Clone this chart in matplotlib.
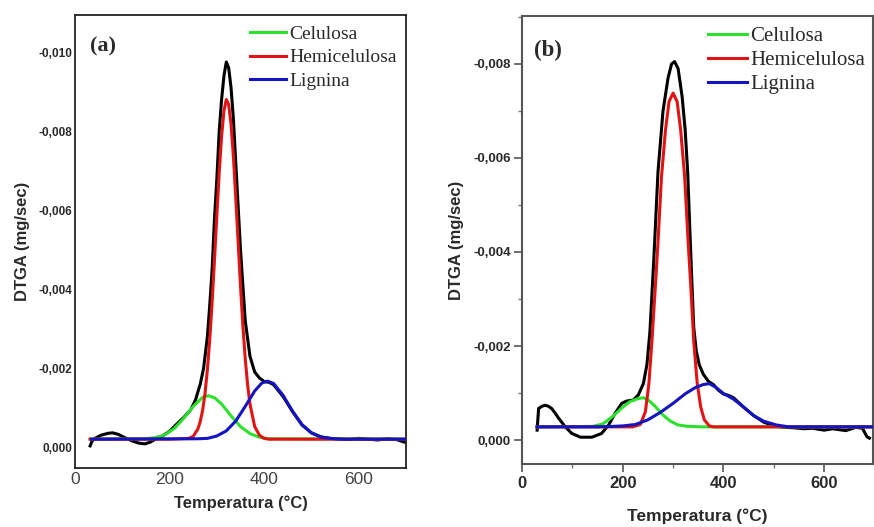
import numpy as np
import matplotlib
matplotlib.use("Agg")
import matplotlib.pyplot as plt
from matplotlib.ticker import FuncFormatter, MultipleLocator

# ---- data (DTGA magnitudes in mg/sec, plotted as negative) ----
# panel (a)
temp_a_total = [32, 36, 42, 55, 70, 80, 92, 105, 120, 135, 148, 160, 170, 185, 200, 215,
                230, 245, 255, 265, 272, 280, 285, 290, 295, 300, 305, 310, 315, 320, 325,
                330, 335, 340, 345, 350, 355, 360, 370, 380, 390, 400, 410, 420, 440, 460,
                480, 500, 520, 540, 560, 580, 600, 620, 640, 660, 680, 695, 700]
dtga_a_total = [0.00003, 0.00015, 0.00022, 0.0003, 0.00035, 0.00036, 0.00032, 0.00024,
                0.00016, 0.0001, 0.00008, 0.00013, 0.0002, 0.00028, 0.0004, 0.00058,
                0.00075, 0.00095, 0.0012, 0.0016, 0.0020, 0.0028, 0.0036, 0.0045, 0.0058,
                0.0068, 0.0080, 0.0088, 0.0094, 0.00975, 0.0096, 0.0091, 0.0083, 0.0072,
                0.0061, 0.0050, 0.0041, 0.0032, 0.0023, 0.0019, 0.00175, 0.00166, 0.00164,
                0.00158, 0.00128, 0.0009, 0.00056, 0.00036, 0.00026, 0.00022, 0.00021,
                0.00019, 0.00022, 0.0002, 0.00018, 0.00021, 0.00019, 0.00013, 0.00012]

temp_a_cel = [32, 150, 170, 190, 210, 230, 250, 270, 282, 295, 310, 330, 350, 370, 390, 410, 700]
dtga_a_cel = [0.0002, 0.00021, 0.00024, 0.00031, 0.00047, 0.00073, 0.00103, 0.00126, 0.0013,
              0.00125, 0.00109, 0.00079, 0.00052, 0.00034, 0.00025, 0.00021, 0.0002]

temp_a_hem = [32, 200, 240, 250, 260, 265, 270, 275, 280, 285, 290, 295, 300, 305, 310, 315,
              320, 325, 330, 335, 340, 345, 350, 355, 360, 365, 370, 380, 390, 400, 410, 700]
dtga_a_hem = [0.0002, 0.0002, 0.00022, 0.00027, 0.00046, 0.00065, 0.00094, 0.00136, 0.00196,
              0.00273, 0.00367, 0.00474, 0.00587, 0.00695, 0.00787, 0.00851, 0.0088, 0.00867,
              0.00817, 0.00735, 0.00631, 0.00519, 0.00408, 0.00308, 0.00224, 0.00158, 0.00109,
              0.00052, 0.0003, 0.00022, 0.0002, 0.0002]

temp_a_lig = [35, 260, 280, 300, 320, 340, 360, 380, 395, 407, 420, 440, 460, 480, 500, 520,
              540, 560, 700]
dtga_a_lig = [0.0002, 0.00021, 0.00022, 0.00028, 0.00041, 0.00066, 0.00103, 0.00142, 0.00162,
              0.00167, 0.00161, 0.00131, 0.00091, 0.00057, 0.00036, 0.00025, 0.00022, 0.0002,
              0.0002]

# panel (b)
temp_b_total = [30, 33, 40, 46, 52, 59, 66, 73, 86, 99, 116, 139, 158, 172, 185, 198, 208, 221,
                231, 241, 248, 254, 262, 270, 280, 290, 297, 303, 310, 318, 324, 329, 335, 341,
                346, 352, 360, 370, 380, 390, 400, 410, 420, 430, 440, 460, 480, 500, 520, 540,
                560, 577, 600, 617, 643, 663, 676, 685, 690]
dtga_b_total = [0.00021, 0.00067, 0.00072, 0.00074, 0.00072, 0.00067, 0.00057, 0.00046,
                0.00028, 0.00014, 0.00006, 0.00006, 0.00014, 0.00032, 0.00057, 0.00078,
                0.00083, 0.00085, 0.00096, 0.0012, 0.0016, 0.0023, 0.0039, 0.0057, 0.0070,
                0.0077, 0.0080, 0.00805, 0.0079, 0.0073, 0.0066, 0.0057, 0.0040, 0.0024,
                0.0019, 0.0016, 0.0014, 0.00125, 0.00118, 0.00106, 0.00098, 0.00095, 0.0009,
                0.0008, 0.0007, 0.00052, 0.00038, 0.0003, 0.00027, 0.00026, 0.00024, 0.00025,
                0.00021, 0.00024, 0.0002, 0.00027, 0.00025, 0.00007, 0.00004]

temp_b_cel = [30, 140, 160, 180, 200, 215, 230, 240, 250, 265, 280, 295, 310, 330, 360, 700]
dtga_b_cel = [0.00028, 0.00029, 0.00034, 0.0005, 0.0007, 0.00082, 0.00088, 0.0009, 0.00086,
              0.00071, 0.00053, 0.0004, 0.00032, 0.00029, 0.00028, 0.00028]

temp_b_hem = [30, 220, 235, 245, 252, 258, 265, 270, 277, 285, 292, 300, 308, 315, 323, 330,
              335, 341, 348, 355, 362, 372, 380, 700]
dtga_b_hem = [0.00028, 0.00028, 0.00033, 0.0006, 0.0012, 0.0021, 0.0033, 0.0042, 0.0056,
              0.0066, 0.0072, 0.00738, 0.0072, 0.0066, 0.0056, 0.0042, 0.0033, 0.0021, 0.0012,
              0.0007, 0.00043, 0.0003, 0.00028, 0.00028]

temp_b_lig = [30, 150, 180, 200, 225, 250, 275, 300, 325, 345, 360, 372, 385, 400, 420, 440,
              460, 480, 505, 530, 700]
dtga_b_lig = [0.00028, 0.00028, 0.00029, 0.0003, 0.00033, 0.00043, 0.00059, 0.00078, 0.00099,
              0.00112, 0.00118, 0.0012, 0.00112, 0.00099, 0.00087, 0.0007, 0.00052, 0.0004,
              0.00032, 0.00028, 0.00028]

labels = ["Celulosa", "Hemicelulosa", "Lignina"]
colors = ["#2ee02e", "#e01414", "#1414c0"]
x_ticks = [0, 200, 400, 600]

txt = "#2a2a2a"
sans = "Liberation Sans"
serif = "Liberation Serif"


def comma_fmt(v, pos):
    return f"{v + 0.0:.3f}".replace(".", ",")


fig = plt.figure(figsize=(8.74, 5.27), dpi=100)
ax_a = fig.add_axes([75 / 874, 59 / 527, 331 / 874, 453 / 527])
ax_b = fig.add_axes([522 / 874, 63 / 527, 351 / 874, 448 / 527])


def draw(ax, tot, cel, hem, lig):
    ax.plot(tot[0], -np.array(tot[1]), color="black", lw=2.2, zorder=1)
    lines = []
    for (t, v), c, lab, z in zip([cel, hem, lig], colors, labels, [2, 3, 4]):
        ln, = ax.plot(t, -np.array(v), color=c, lw=2.2, zorder=z, label=lab)
        lines.append(ln)
    return lines


lines_a = draw(ax_a, (temp_a_total, dtga_a_total), (temp_a_cel, dtga_a_cel),
               (temp_a_hem, dtga_a_hem), (temp_a_lig, dtga_a_lig))
lines_b = draw(ax_b, (temp_b_total, dtga_b_total), (temp_b_cel, dtga_b_cel),
               (temp_b_hem, dtga_b_hem), (temp_b_lig, dtga_b_lig))

# panel (a) axes
ax_a.set_xlim(0, 700)
ax_a.set_ylim(0.00053, -0.01094)
ax_a.set_xticks(x_ticks)
ax_a.set_yticks([-0.010, -0.008, -0.006, -0.004, -0.002, 0.0])
ax_a.yaxis.set_major_formatter(FuncFormatter(comma_fmt))
ax_a.tick_params(axis="y", length=0, pad=2, labelsize=8.5, labelcolor=txt)
ax_a.tick_params(axis="x", length=0, pad=3, labelsize=12.5, labelcolor="#444444")
for lab in ax_a.get_yticklabels():
    lab.set_fontweight("bold")
    lab.set_family(sans)
for lab in ax_a.get_xticklabels():
    lab.set_family(sans)
for sp in ax_a.spines.values():
    sp.set_linewidth(1.3)
    sp.set_color("#222222")
ax_a.set_xlabel("Temperatura (°C)", fontsize=12, fontweight="bold", family=sans,
                color=txt, labelpad=6)
ax_a.set_ylabel("DTGA (mg/sec)", fontsize=12, fontweight="bold", family=sans,
                color=txt, labelpad=6)
ax_a.text(0.045, 0.92, "(a)", transform=ax_a.transAxes, fontsize=16, fontweight="bold",
          family=serif, color=txt)
ax_a.legend(handles=lines_a, loc="upper right", bbox_to_anchor=(0.99, 0.99), frameon=False,
            prop={"family": serif, "size": 14}, handlelength=1.85, handletextpad=0.15,
            labelspacing=0.3, borderaxespad=0.1, borderpad=0.2, labelcolor=txt)

# panel (b) axes
ax_b.set_xlim(0, 697)
ax_b.set_ylim(0.00051, -0.00902)
ax_b.set_xticks(x_ticks)
ax_b.xaxis.set_minor_locator(MultipleLocator(100))
ax_b.set_yticks([-0.008, -0.006, -0.004, -0.002, 0.0])
ax_b.yaxis.set_minor_locator(MultipleLocator(0.001))
ax_b.yaxis.set_major_formatter(FuncFormatter(comma_fmt))
ax_b.tick_params(which="major", direction="out", length=6, width=1.2, color="#555555")
ax_b.tick_params(which="minor", direction="out", length=3, width=1.0, color="#777777")
ax_b.tick_params(axis="y", pad=2, labelsize=9.5, labelcolor=txt)
ax_b.tick_params(axis="x", pad=3, labelsize=12, labelcolor=txt)
for lab in ax_b.get_yticklabels() + ax_b.get_xticklabels():
    lab.set_fontweight("bold")
    lab.set_family(sans)
for sp in ax_b.spines.values():
    sp.set_linewidth(1.5)
    sp.set_color("#555555")
ax_b.set_xlabel("Temperatura (°C)", fontsize=12.5, fontweight="bold", family=sans,
                color=txt, labelpad=12)
ax_b.set_ylabel("DTGA (mg/sec)", fontsize=12, fontweight="bold", family=sans,
                color=txt, labelpad=7)
ax_b.text(0.035, 0.91, "(b)", transform=ax_b.transAxes, fontsize=16.5, fontweight="bold",
          family=serif, color=txt)
ax_b.legend(handles=lines_b, loc="upper right", bbox_to_anchor=(0.995, 0.99), frameon=False,
            prop={"family": serif, "size": 15}, handlelength=1.85, handletextpad=0.15,
            labelspacing=0.2, borderaxespad=0.1, borderpad=0.2, labelcolor=txt)

fig.savefig("out.png", dpi=100)
